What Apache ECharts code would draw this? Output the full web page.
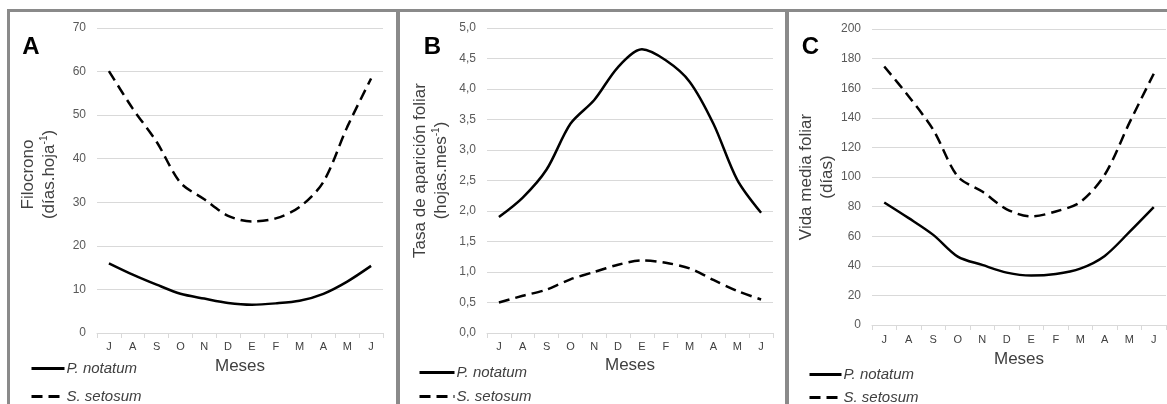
<!DOCTYPE html>
<html>
<head>
<meta charset="utf-8">
<script src="https://cdn.jsdelivr.net/npm/echarts@6/dist/echarts.min.js"></script>
<style>
html,body{margin:0;padding:0;background:#fff;}
#c{width:1167px;height:404px;}
</style>
</head>
<body>
<div id="c"></div>
<script>
const months = ['J','A','S','O','N','D','E','F','M','A','M','J'];
const seriesNames = ['P. notatum', 'S. setosum'];
// Panel A: Filocrono (días.hoja-1)
const filocronoP = [16.0, 13.4, 11.1, 9.0, 7.9, 6.9, 6.5, 6.8, 7.4, 9.0, 11.8, 15.4];
const filocronoS = [60.1, 51.5, 43.9, 34.5, 30.7, 26.9, 25.6, 26.3, 28.9, 34.7, 47.3, 58.4];
// Panel B: Tasa de aparición foliar (hojas.mes-1)
const tasaP = [1.90, 2.22, 2.68, 3.43, 3.82, 4.36, 4.65, 4.47, 4.12, 3.43, 2.51, 1.97];
const tasaS = [0.50, 0.61, 0.71, 0.88, 1.00, 1.12, 1.19, 1.15, 1.06, 0.87, 0.69, 0.55];
// Panel C: Vida media foliar (días)
const vidaP = [82.8, 72.2, 60.9, 46.2, 40.6, 35.4, 33.4, 34.5, 38.1, 46.7, 62.7, 79.6];
const vidaS = [174.7, 154.4, 131.9, 100.3, 90.2, 78.2, 73.3, 76.7, 83.0, 101.5, 136.4, 169.8];
const panelLetters = ['A', 'B', 'C'];
const xAxisTitle = 'Meses';

const FONT = '"Liberation Sans", Arial, sans-serif';
const GRID_COLOR = '#d9d9d9';
const BORDER_COLOR = '#8a8a8a';

const grids = [
  {left: 97, top: 28, width: 286, height: 305},
  {left: 487, top: 28, width: 286, height: 305},
  {left: 872, top: 29, width: 294, height: 296}
];

function xAxis(i, nameGap, labelMargin) {
  return {
    type: 'category', gridIndex: i, data: months, boundaryGap: true,
    name: xAxisTitle, nameLocation: 'middle', nameGap: nameGap,
    nameTextStyle: {fontFamily: FONT, fontSize: 17, color: '#404040'},
    axisLine: {show: true, lineStyle: {color: GRID_COLOR, width: 1}},
    axisTick: {show: true, length: 5, lineStyle: {color: GRID_COLOR}},
    axisLabel: {fontFamily: FONT, fontSize: 11, color: '#404040', margin: labelMargin, interval: 0}
  };
}
const nameRich = {
  a: {fontFamily: FONT, fontSize: 17, color: '#404040', lineHeight: 21},
  s: {fontFamily: FONT, fontSize: 10, color: '#404040', lineHeight: 21, verticalAlign: 'top', padding: [0, 0, 6, 0]}
};
function yAxis(i, min, max, interval, name, nameGap, fmt, shift) {
  return {
    type: 'value', gridIndex: i, min: min, max: max, interval: interval,
    name: name, nameLocation: 'middle', nameGap: nameGap, nameRotate: 90,
    nameTextStyle: {rich: nameRich, padding: [0, 0, 0, shift]},
    axisLine: {show: false}, axisTick: {show: false},
    axisLabel: {fontFamily: FONT, fontSize: 12, color: '#595959', margin: 11, formatter: fmt},
    splitLine: {show: true, lineStyle: {color: GRID_COLOR, width: 1}}
  };
}
function line(i, name, data, dashed) {
  return {
    type: 'line', name: name, xAxisIndex: i, yAxisIndex: i, data: data,
    symbol: 'none', smooth: 0.3,
    lineStyle: {color: '#000', width: 2.5, type: dashed ? [11, 6] : 'solid'},
    itemStyle: {color: '#000'},
    emphasis: {disabled: true}
  };
}
function legend(name, left, centerY, itemWidth) {
  return {
    data: [name], orient: 'vertical', left: left, top: centerY - 8, padding: 0,
    itemWidth: itemWidth, itemHeight: 14, selectedMode: false,
    itemStyle: {opacity: 0},
    lineStyle: {width: 3},
    textStyle: {fontFamily: FONT, fontSize: 15, fontStyle: 'italic', color: '#404040', padding: [0, 0, 0, -3]}
  };
}

const chart = echarts.init(document.getElementById('c'), null, {renderer: 'canvas'});
chart.setOption({
  animation: false,
  backgroundColor: '#fff',
  grid: grids,
  xAxis: [xAxis(0, 25, 8), xAxis(1, 24, 8), xAxis(2, 26, 9)],
  yAxis: [
    yAxis(0, 0, 70, 10, '{a|Filocrono}\n{a|(días.hoja}{s|-1}{a|)}', 37, v => String(v), 12),
    yAxis(1, 0, 5, 0.5, '{a|Tasa de aparición foliar}\n{a|(hojas.mes}{s|-1}{a|)}', 35, v => v.toFixed(1).replace('.', ','), 20),
    yAxis(2, 0, 200, 20, '{a|Vida media foliar}\n{a|(días)}', 34, v => String(v), 0)
  ],
  legend: [
    legend(seriesNames[0], 30, 369, 33), legend(seriesNames[1], 30, 397, 33),
    legend(seriesNames[0], 418, 373, 35), legend(seriesNames[1], 418, 397, 35),
    legend(seriesNames[0], 808, 375, 32), legend(seriesNames[1], 808, 398, 32)
  ],
  series: [
    line(0, seriesNames[0], filocronoP, false),
    line(0, seriesNames[1], filocronoS, true),
    line(1, seriesNames[0], tasaP, false),
    line(1, seriesNames[1], tasaS, true),
    line(2, seriesNames[0], vidaP, false),
    line(2, seriesNames[1], vidaS, true)
  ],
  graphic: [
    {type: 'rect', shape: {x: 7, y: 9, width: 1160, height: 3}, style: {fill: BORDER_COLOR}, silent: true},
    {type: 'rect', shape: {x: 7, y: 9, width: 3, height: 395}, style: {fill: BORDER_COLOR}, silent: true},
    {type: 'rect', shape: {x: 396, y: 9, width: 4, height: 395}, style: {fill: BORDER_COLOR}, silent: true},
    {type: 'rect', shape: {x: 785, y: 9, width: 4, height: 395}, style: {fill: BORDER_COLOR}, silent: true},
    {type: 'text', style: {x: 31, y: 47, text: panelLetters[0], textAlign: 'center', textVerticalAlign: 'middle', font: 'bold 24px ' + FONT, fill: '#000'}, silent: true},
    {type: 'text', style: {x: 432.5, y: 47, text: panelLetters[1], textAlign: 'center', textVerticalAlign: 'middle', font: 'bold 24px ' + FONT, fill: '#000'}, silent: true},
    {type: 'text', style: {x: 810.5, y: 47, text: panelLetters[2], textAlign: 'center', textVerticalAlign: 'middle', font: 'bold 24px ' + FONT, fill: '#000'}, silent: true}
  ]
});
</script>
</body>
</html>
